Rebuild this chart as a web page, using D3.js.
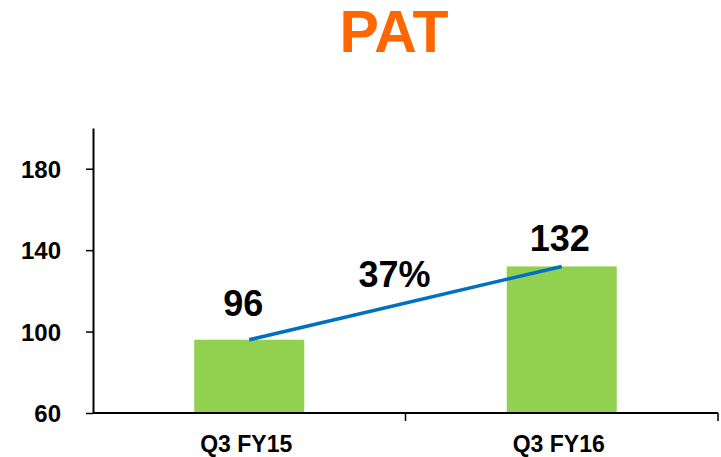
<!DOCTYPE html>
<html>
<head>
<meta charset="utf-8">
<script src="https://cdn.jsdelivr.net/npm/d3@7"></script>
<style>
  body { margin: 0; background: #fff; }
  svg text { font-family: "Liberation Sans", Arial, sans-serif; font-weight: bold; }
</style>
</head>
<body>
<svg id="chart" width="721" height="457"></svg>
<script>
const categories = ["Q3 FY15", "Q3 FY16"];
const values = [96, 132];
const growthLabel = "37%";
const yTicks = [60, 100, 140, 180];
const title = "PAT";

const svg = d3.select("#chart");
const margin = { left: 93, right: 3, top: 128, bottom: 44 };
const width = 721, height = 457;

const x = d3.scaleBand()
  .domain(categories)
  .range([margin.left, width - margin.right])
  .paddingInner(0.648)
  .paddingOuter(0.324);

const y = d3.scaleLinear()
  .domain([60, 200])
  .range([height - margin.bottom, margin.top]);

// title
svg.append("text")
  .attr("x", 394)
  .attr("y", 52)
  .attr("text-anchor", "middle")
  .attr("fill", "#FF6600")
  .style("font-size", "59px")
  .text(title);

// bars
svg.selectAll("rect.bar")
  .data(values)
  .enter()
  .append("rect")
  .attr("class", "bar")
  .attr("x", (d, i) => x(categories[i]))
  .attr("y", d => y(d))
  .attr("width", x.bandwidth())
  .attr("height", d => y(60) - y(d))
  .attr("fill", "#92D050");

// y axis
const yAxis = svg.append("g")
  .attr("transform", `translate(${margin.left},0)`)
  .call(d3.axisLeft(y).tickValues(yTicks).tickSize(7).tickSizeOuter(0));
yAxis.select(".domain").attr("stroke", "#000").attr("stroke-width", 2);
yAxis.selectAll(".tick line").attr("stroke", "#000").attr("stroke-width", 1.5);
yAxis.selectAll(".tick text")
  .attr("x", -32)
  .attr("dy", "0.36em")
  .attr("fill", "#000")
  .style("font-size", "24px");

// x axis with ticks at band boundaries
const xAxis = svg.append("g")
  .attr("transform", `translate(0,${y(60)})`);
xAxis.append("line")
  .attr("x1", margin.left)
  .attr("x2", width - margin.right)
  .attr("stroke", "#000")
  .attr("stroke-width", 2);
const step = x.step();
const bounds = categories.map((c, i) => x(c) - x.paddingInner() * step / 2 + step);
xAxis.selectAll("line.tick")
  .data(bounds)
  .enter()
  .append("line")
  .attr("class", "tick")
  .attr("x1", d => d)
  .attr("x2", d => d)
  .attr("y1", 0)
  .attr("y2", 8)
  .attr("stroke", "#000")
  .attr("stroke-width", 1.5);
xAxis.selectAll("text")
  .data(categories)
  .enter()
  .append("text")
  .attr("x", d => x(d) + x.bandwidth() / 2 - 3)
  .attr("y", 39)
  .attr("text-anchor", "middle")
  .attr("fill", "#000")
  .style("font-size", "23px")
  .text(d => d);

// growth line
const pts = values.map((v, i) => [x(categories[i]) + x.bandwidth() / 2, y(v)]);
svg.append("path")
  .attr("d", d3.line()(pts))
  .attr("stroke", "#0070C0")
  .attr("stroke-width", 3.5)
  .attr("fill", "none");

// value labels
svg.selectAll("text.val")
  .data(values)
  .enter()
  .append("text")
  .attr("class", "val")
  .attr("x", (d, i) => x(categories[i]) + x.bandwidth() / 2 - (i === 0 ? 6 : 2))
  .attr("y", (d, i) => y(d) - (i === 0 ? 24 : 15))
  .attr("text-anchor", "middle")
  .attr("fill", "#000")
  .style("font-size", "36px")
  .text(d => d);

// growth label
svg.append("text")
  .attr("x", (pts[0][0] + pts[1][0]) / 2 - 11)
  .attr("y", (pts[0][1] + pts[1][1]) / 2 - 16)
  .attr("text-anchor", "middle")
  .attr("fill", "#000")
  .style("font-size", "36px")
  .text(growthLabel);
</script>
</body>
</html>
